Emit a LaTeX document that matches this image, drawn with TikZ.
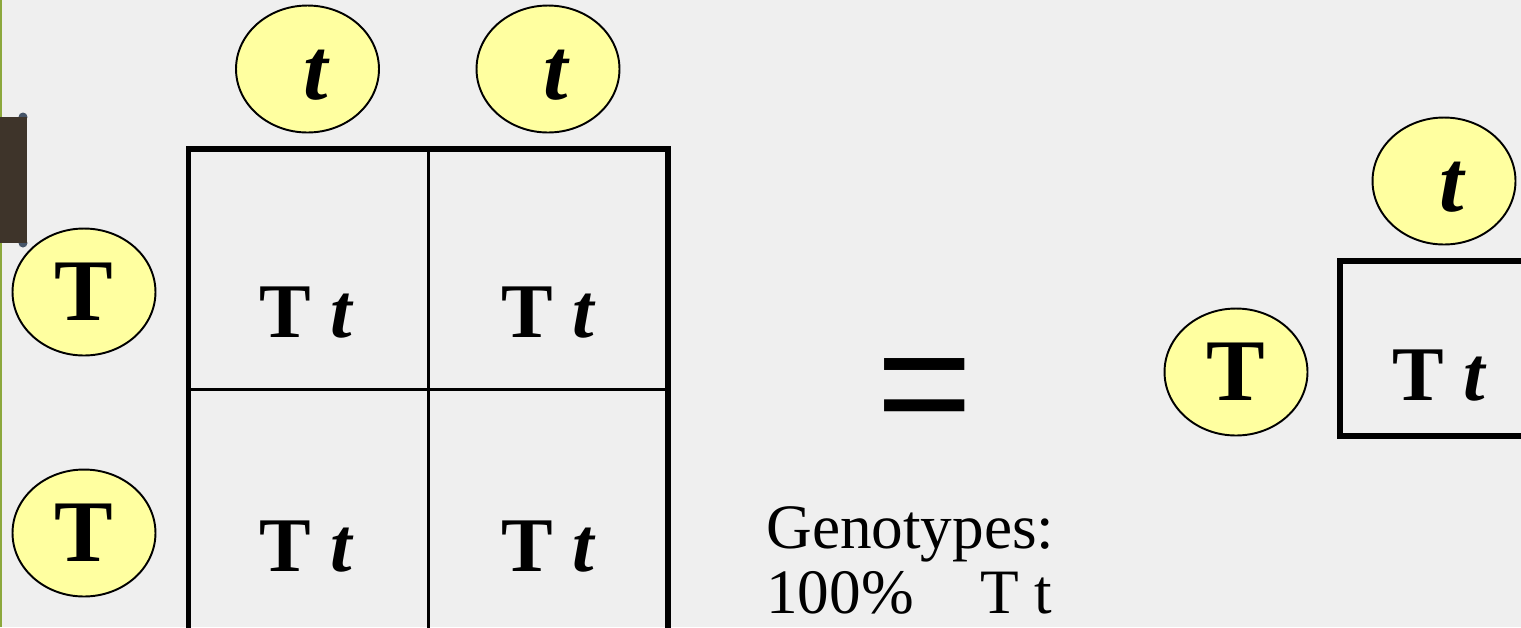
\documentclass[tikz,border=0pt]{standalone}
\usepackage{fontspec}
\setmainfont{Liberation Serif}
\newfontfamily\eqfont{Liberation Sans}
\usetikzlibrary{shapes.geometric}
\definecolor{bgcol}{RGB}{239,239,239}
\definecolor{alleleyellow}{RGB}{255,255,160}
\definecolor{barbrown}{RGB}{62,52,42}
\definecolor{capblue}{RGB}{70,85,105}
\definecolor{edgegreen}{RGB}{140,168,60}
\tikzset{
  allele/.style={ellipse, draw=black, line width=1.1pt, fill=alleleyellow,
    minimum width=2.86cm, minimum height=2.54cm, inner sep=0pt,
    font=\fontsize{50}{50}\selectfont\bfseries},
  smallt/.style={text height=35pt, text depth=0pt},
  celltext/.style={anchor=base, inner sep=0pt, font=\fontsize{44}{44}\selectfont\bfseries},
  plaintext/.style={anchor=base west, inner sep=0pt, font=\fontsize{36}{36}\selectfont},
  thickframe/.style={draw=black, line width=3.4pt},
  thinline/.style={draw=black, line width=1.7pt}
}
\begin{document}
\begin{tikzpicture}[x=0.02cm, y=-0.02cm]
\useasboundingbox (0,0) rectangle (1521,627);
\clip (0,0) rectangle (1521,627);
\fill[bgcol] (0,0) rectangle (1521,627);
% left decorations
\fill[edgegreen] (0,0) rectangle (2.5,627);
\fill[capblue] (23,117) circle (4.5);
\fill[capblue] (23,243) circle (4.5);
\fill[barbrown] (0,117) rectangle (27,243);
% Punnett square
\draw[thinline] (428.5,149) -- (428.5,720);
\draw[thinline] (188.5,389) -- (668,389);
\draw[thickframe] (188.5,149) rectangle (668,720);
% column alleles
\node[allele, smallt] (c1) at (307.5,69) {\kern0.18em\itshape t};
\node[allele, smallt] (c2) at (548,69) {\kern0.18em\itshape t};
% row alleles
\node[allele] (r1) at (84,292) {T};
\node[allele] (r2) at (84,533) {T};
% cells
\node[celltext] (a11) at (307,337) {T \textit{t}};
\node[celltext] (a12) at (549,337) {T \textit{t}};
\node[celltext] (a21) at (307,571) {T \textit{t}};
\node[celltext] (a22) at (549,571) {T \textit{t}};
% equals
\node[anchor=base, inner sep=0pt, font=\eqfont\fontsize{94}{94}\selectfont] (eq) at (925,439) {=};
% genotypes text
\node[plaintext] (g1) at (766,548) {Genotypes:};
\node[plaintext] (g2) at (766,613) {100\%\hspace{1.05em}T t};
% right simplified square
\draw[thickframe] (1340,261) rectangle (1600,436);
\node[allele, smallt] (rc) at (1444,181) {\kern0.18em\itshape t};
\node[allele] (rr) at (1236,372) {T};
\node[celltext] (rb) at (1440,400) {T \textit{t}};
\end{tikzpicture}
\end{document}
